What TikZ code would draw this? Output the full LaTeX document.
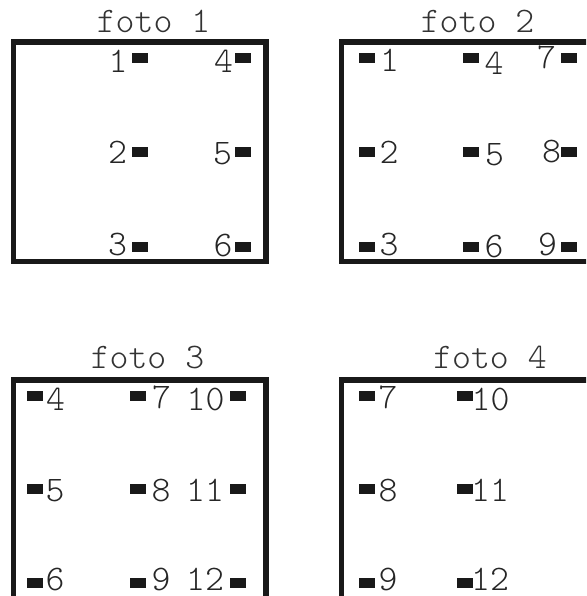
\documentclass[tikz,border=0pt]{standalone}
\usepackage{tikz}
\newcommand{\numfont}{\fontsize{18}{18}\ttfamily\fontseries{l}\selectfont}
\tikzset{
  frame/.style={draw=black!90, line width=2.75pt},
  pad/.style={fill=black!90, minimum width=8pt, minimum height=5pt, inner sep=0pt},
  num/.style={font=\numfont, inner sep=0pt, anchor=base, text=black!85},
  title/.style={font=\numfont, inner sep=0pt, anchor=base, text=black!80}
}
\begin{document}
\begin{tikzpicture}[x=0.5pt, y=-0.5pt]
  \useasboundingbox (0,0) rectangle (586,596);
  \clip (0,0) rectangle (586,596);
  % frames
  \draw[frame] (13.5,42) rectangle (266,261.5);
  \draw[frame] (341.5,42) rectangle (620,261.5);
  \draw[frame] (13.5,380) rectangle (266,640);
  \draw[frame] (341.5,380) rectangle (620,640);
  % titles
  \node[title] (t1) at (153.5,32) {foto 1};
  \node[title] (t2) at (477.5,32) {foto 2};
  \node[title] (t3) at (147.5,368) {foto 3};
  \node[title] (t4) at (490,368) {foto 4};
  % foto 1
  \foreach \n/\x/\y/\lx/\dy in {1/140/58/118/14, 2/140/152/117.5/11, 3/140/247/117.5/8,
                                4/243/58/223.5/14, 5/243/152/222.5/12, 6/243/247/223/9}{
    \node[pad] (a\n) at (\x,\y) {};
    \node[num] (la\n) at (\lx,\y+\dy) {\n};
  }
  % foto 2
  \foreach \n/\x/\y/\lx/\dy in {1/367/58/389.5/13, 2/367/152/389/11, 3/367/247/389/8,
                                4/471/58/494/16, 5/470.5/152/494.5/13, 6/470.5/247/494/10,
                                7/568.5/58/546.5/10, 8/569/152/551.5/10, 9/569/247/547.5/8}{
    \node[pad] (b\n) at (\x,\y) {};
    \node[num] (lb\n) at (\lx,\y+\dy) {\n};
  }
  % foto 3
  \foreach \n/\x/\y/\lx/\dy in {4/34.5/396/55.5/14, 5/34.5/489/55/12, 6/34.5/583/55/7,
                                7/138/396/161.5/12, 8/138/489/161/12, 9/138/583/161/7,
                                10/237.5/396/205.5/14, 11/237.5/489/205/12, 12/237.5/583/205/7}{
    \node[pad] (c\n) at (\x,\y) {};
    \node[num] (lc\n) at (\lx,\y+\dy) {\n};
  }
  % foto 4
  \foreach \n/\x/\y/\lx/\dy in {7/367/396/388/12, 8/367/489/388/12, 9/367/583/388/7,
                                10/465/396/490.5/14, 11/465/489/490/12, 12/465/583/490/7}{
    \node[pad] (d\n) at (\x,\y) {};
    \node[num] (ld\n) at (\lx,\y+\dy) {\n};
  }
\end{tikzpicture}
\end{document}
